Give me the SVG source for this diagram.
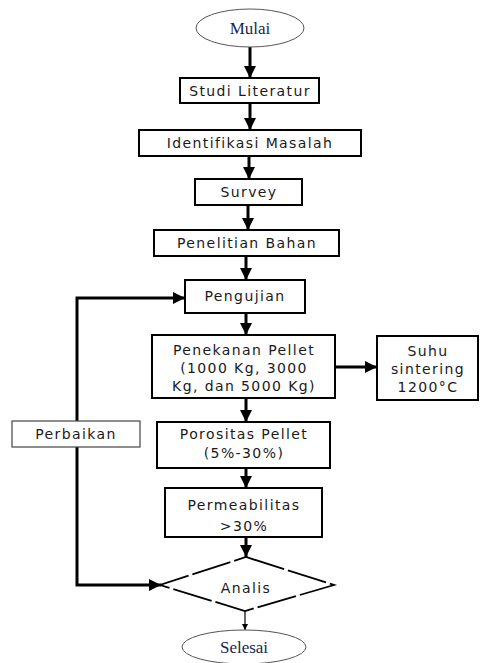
<svg xmlns="http://www.w3.org/2000/svg" width="484" height="663" viewBox="0 0 484 663">
<style>
.box{fill:#fff;stroke:#000;stroke-width:2}
.thin{fill:#fff;stroke:#444;stroke-width:1.2}
.oval{fill:#fff;stroke:#555;stroke-width:1}
.t{font-family:"DejaVu Sans",sans-serif;font-size:14px;fill:#1a1a1a;text-anchor:middle;letter-spacing:1.4px}
.s{font-family:"Liberation Serif",serif;font-size:17px;fill:#1a2550;text-anchor:middle}
.c{fill:none;stroke:#000;stroke-width:3}
.cthin{fill:none;stroke:#000;stroke-width:1.2}
</style>
<defs>
<marker id="ah" viewBox="0 0 10 10" refX="10" refY="5" markerWidth="4" markerHeight="4" markerUnits="strokeWidth" orient="auto">
<path d="M0,0 L10,5 L0,10 z" fill="#000"/>
</marker>
<marker id="ahs" viewBox="0 0 10 10" refX="10" refY="5" markerWidth="5" markerHeight="5" markerUnits="strokeWidth" orient="auto">
<path d="M0,0 L10,5 L0,10 z" fill="#000"/>
</marker>
</defs>
<g id="connectors">
<path class="c" d="M250,47 V78" marker-end="url(#ah)"/>
<path class="c" d="M250,103 V130" marker-end="url(#ah)"/>
<path class="c" d="M249,156 V179" marker-end="url(#ah)"/>
<path class="c" d="M248,205 V230" marker-end="url(#ah)"/>
<path class="c" d="M246,256 V280" marker-end="url(#ah)"/>
<path class="c" d="M246,313 V335" marker-end="url(#ah)"/>
<path class="c" d="M246,398 V422" marker-end="url(#ah)"/>
<path class="c" d="M246,468 V488" marker-end="url(#ah)"/>
<path class="c" d="M246,537 V557" marker-end="url(#ah)"/>
<path class="c" d="M335,367 H377" marker-end="url(#ah)"/>
<path class="c" d="M77,434 V298 H185" marker-end="url(#ah)"/>
<path class="c" d="M77,434 V585 H161" marker-end="url(#ah)"/>
<path class="cthin" d="M245,611 V630" marker-end="url(#ahs)"/>
</g>
<g id="mulai">
<ellipse class="oval" cx="250" cy="28" rx="54" ry="19"/>
<text class="s" x="250" y="34">Mulai</text>
</g>
<g id="studi">
<rect class="box" x="180" y="78" width="139" height="25"/>
<text class="t" x="250" y="96">Studi Literatur</text>
</g>
<g id="identifikasi">
<rect class="box" x="139" y="130" width="222" height="26"/>
<text class="t" x="250" y="148">Identifikasi Masalah</text>
</g>
<g id="survey">
<rect class="box" x="195" y="179" width="107" height="26"/>
<text class="t" x="249" y="197">Survey</text>
</g>
<g id="penelitian">
<rect class="box" x="154" y="230" width="185" height="26"/>
<text class="t" x="247" y="248">Penelitian Bahan</text>
</g>
<g id="pengujian">
<rect class="box" x="185" y="280" width="120" height="33"/>
<text class="t" x="245" y="301">Pengujian</text>
</g>
<g id="penekanan">
<rect class="box" x="152" y="335" width="183" height="63"/>
<text class="t" x="244" y="355">Penekanan Pellet</text>
<text class="t" x="244" y="373">(1000 Kg, 3000</text>
<text class="t" x="244" y="391">Kg, dan 5000 Kg)</text>
</g>
<g id="suhu">
<rect class="box" x="377" y="336" width="101" height="64"/>
<text class="t" x="428" y="356">Suhu</text>
<text class="t" x="428" y="374">sintering</text>
<text class="t" x="428" y="392">1200°C</text>
</g>
<g id="perbaikan">
<rect class="thin" x="12" y="421" width="128" height="26"/>
<text class="t" x="76" y="439">Perbaikan</text>
</g>
<g id="porositas">
<rect class="box" x="157" y="422" width="173" height="46"/>
<text class="t" x="244" y="439">Porositas Pellet</text>
<text class="t" x="244" y="458">(5%-30%)</text>
</g>
<g id="permeabilitas">
<rect class="box" x="165" y="488" width="157" height="49"/>
<text class="t" x="244" y="510">Permeabilitas</text>
<text class="t" x="244" y="531">&gt;30%</text>
</g>
<g id="analis">
<polygon points="246,557 334,585 245,611 160,585" fill="#fff" stroke="#000" stroke-width="1.8" stroke-dasharray="40 4"/>
<text class="t" x="246" y="593">Analis</text>
</g>
<g id="selesai">
<ellipse class="oval" cx="244" cy="647" rx="62" ry="17"/>
<text class="s" x="244" y="653">Selesai</text>
</g>
</svg>
